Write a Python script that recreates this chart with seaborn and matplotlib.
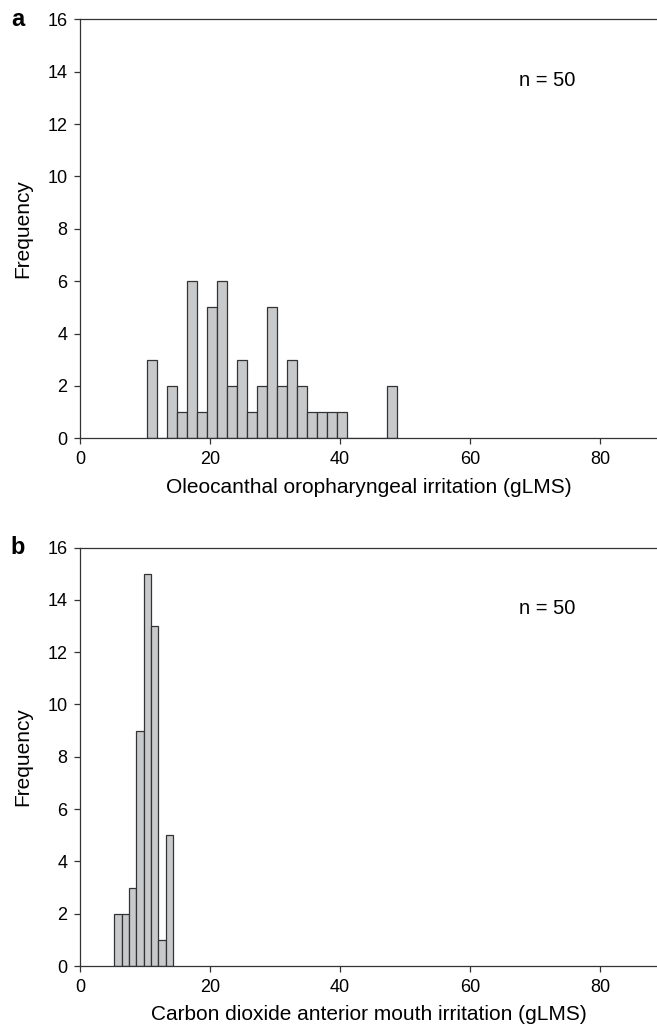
import numpy as np
import pandas as pd
import matplotlib
matplotlib.use("Agg")
import matplotlib.pyplot as plt
import seaborn as sns

# ==============================
# Data
# ==============================
# panel a: oleocanthal oropharyngeal irritation, bin centres (gLMS) and counts
oleo_centers = [11.03, 12.57, 14.11, 15.65, 17.19, 18.73, 20.27, 21.81, 23.35,
                24.89, 26.43, 27.97, 29.51, 31.05, 32.59, 34.13, 35.67, 37.21,
                38.75, 40.29, 41.83, 43.37, 44.91, 46.45, 47.99]
oleo_counts = [3, 0, 2, 1, 6, 1, 5, 6, 2, 3, 1, 2, 5, 2, 3, 2, 1, 1, 1, 1,
               0, 0, 0, 0, 2]

# panel b: carbon dioxide anterior mouth irritation
co2_centers = [5.85, 6.98, 8.11, 9.24, 10.37, 11.50, 12.63, 13.76]
co2_counts = [2, 2, 3, 9, 15, 13, 1, 5]

x_ticks = [0, 20, 40, 60, 80]
y_ticks = [0, 2, 4, 6, 8, 10, 12, 14, 16]

panels = [
    ("a", oleo_centers, oleo_counts, "Oleocanthal oropharyngeal irritation (gLMS)"),
    ("b", co2_centers, co2_counts, "Carbon dioxide anterior mouth irritation (gLMS)"),
]

# ==============================
# Plot
# ==============================
sns.set_style("ticks")
plt.rcParams["font.family"] = ["Liberation Sans", "DejaVu Sans"]
plt.rcParams["text.color"] = "black"
plt.rcParams["axes.labelcolor"] = "black"

fig = plt.figure(figsize=(6.57, 10.31), dpi=100)
axes = [fig.add_axes([0.1218, 0.5749, 0.8782, 0.4064]),
        fig.add_axes([0.1218, 0.0630, 0.8782, 0.4059])]

edge_col = "#333333"
for ax, (letter, centers, counts, xlabel) in zip(axes, panels):
    df = pd.DataFrame({"value": centers, "count": counts})
    c = np.array(centers)
    w = c[1] - c[0]
    edges = [float(v) for v in np.concatenate([c - w / 2, [c[-1] + w / 2]])]
    sns.histplot(data=df, x="value", weights="count", bins=edges, ax=ax,
                 color="#c8c9cb", edgecolor=edge_col, linewidth=0.9, alpha=1.0)

    ax.set_xlim(0, 88.8)
    ax.set_ylim(0, 16)
    ax.set_xticks(x_ticks)
    ax.set_yticks(y_ticks)
    ax.tick_params(axis="both", direction="out", length=4, width=0.9,
                   color=edge_col, labelsize=13, labelcolor="black", pad=5)
    ax.set_xlabel(xlabel, fontsize=15, labelpad=7)
    ax.set_ylabel("Frequency", fontsize=15, labelpad=11)

    for side in ["left", "bottom", "top"]:
        ax.spines[side].set_color(edge_col)
        ax.spines[side].set_linewidth(0.9)
    ax.spines["right"].set_visible(False)

    ax.text(0.809, 0.855, "n = 50", transform=ax.transAxes, fontsize=14.5,
            ha="center", va="center")
    ax.text(-0.108, 1.0, letter, transform=ax.transAxes, fontsize=17,
            fontweight="bold", ha="center", va="center")

fig.savefig("out.png", dpi=100)
